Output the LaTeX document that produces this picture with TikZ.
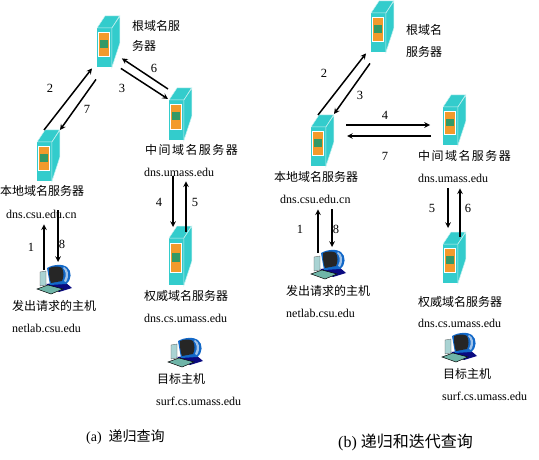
\documentclass[tikz,border=0pt]{standalone}
\usepackage{fontspec}
\setmainfont{Liberation Serif}
\newfontfamily\cjk{Noto Sans CJK SC}
\newfontfamily\cjkwide[LetterSpace=12]{Noto Sans CJK SC}
\usetikzlibrary{arrows,positioning}
\definecolor{srvteal}{HTML}{33CCCC}
\definecolor{srvorange}{HTML}{F39A2B}
\definecolor{srvgreen}{HTML}{339966}
\definecolor{pcblue}{HTML}{1268C8}
\definecolor{pcnavy}{HTML}{0A0A80}
\definecolor{pckey}{HTML}{6FB5A8}
\definecolor{pctower}{HTML}{A9D3D3}
\tikzset{
 srvfront/.style={fill=srvteal,inner sep=0,minimum width=14.5pt,anchor=north west},
 srvedge/.style={fill=srvteal,draw=white!75!srvteal,line width=.5pt},
 msg/.style={-stealth,line width=1.5pt},
 num/.style={inner sep=0,font=\fontsize{12.5pt}{14pt}\selectfont},
 cn/.style={inner sep=0,anchor=west,font=\fontsize{12pt}{14pt}\selectfont\cjk},
 cnwide/.style={inner sep=0,anchor=west,font=\fontsize{12pt}{14pt}\selectfont\cjkwide},
 en/.style={inner sep=0,anchor=west,font=\fontsize{12pt}{14pt}\selectfont},
 hostbox/.style={inner sep=0,minimum width=35pt,minimum height=29pt,anchor=north west},
}
% name, left, top, height of the front face
\newcommand{\dnsserver}[4]{
 \node[srvfront,minimum height=#4pt] (#1) at (#2,#3) {};
 \path[srvedge] (#1.north west) -- ++(8,-12) -- ++(14.5,0) -- (#1.north east) -- cycle;
 \path[srvedge] (#1.north east) -- ++(8,-12) -- ++(0,#4-12) -- (#1.south east) -- cycle;
 \fill[srvorange,draw=white,line width=.8pt] ([shift={(1.6,0.12*#4)}]#1.north west) rectangle ([shift={(12.2,-0.28*#4)}]#1.south west);
 \fill[srvgreen] ([shift={(3.2,0.31*#4)}]#1.north west) rectangle ([shift={(10.6,0.51*#4)}]#1.north west);
}
% name, left, top
\newcommand{\hostpc}[3]{
 \node[hostbox] (#1) at (#2,#3) {};
 \begin{scope}[shift={(#1.north west)}]
  \fill[pctower,draw=black!70,line width=.3pt] (3,7) -- (9,6) -- (9,20) -- (3,21) -- cycle;
  \fill[pcnavy] (9,19) -- (28,17) -- (35,23) -- (22,27) -- cycle;
  \fill[pckey,draw=black,line width=.5pt] (0,24) -- (11,20) -- (26,24) -- (14,29) -- cycle;
  \fill[pcblue] (10,3) .. controls (17,-1) and (26,-1) .. (30,2) .. controls (35,6) and (35,15) .. (29,19) -- (13,20) -- cycle;
  \fill[white!60!pcblue] (27,2) .. controls (31,4) and (33,10) .. (29,17) -- (27,16) .. controls (30,10) and (29,6) .. (26,3) -- cycle;
  \fill[black!85] (12,3) .. controls (17,1) and (22,1) .. (25,3) .. controls (27,7) and (27,12) .. (25,16) -- (14,18) .. controls (12,13) and (12,8) .. (12,3);
 \end{scope}
}
\begin{document}
\begin{tikzpicture}[x=1pt,y=-1pt]
 \useasboundingbox (0,0) rectangle (539,460);

 % servers (a)
 \dnsserver{arootsrv}{97}{28}{39}
 \dnsserver{alocalsrv}{37}{142}{39}
 \dnsserver{amidsrv}{169}{100}{40}
 \dnsserver{aauthsrv}{169}{238}{47}
 % servers (b)
 \dnsserver{brootsrv}{371}{13}{39}
 \dnsserver{blocalsrv}{311}{127}{39}
 \dnsserver{bmidsrv}{443}{107}{38}
 \dnsserver{bauthsrv}{443}{244}{39}

 % hosts
 \hostpc{areqpc}{37}{265}
 \hostpc{atgtpc}{168}{338}
 \hostpc{breqpc}{311}{250}
 \hostpc{btgtpc}{442}{333}

 % labels (a)
 \node[cn] (arootl1) at (132,26) {根域名服};
 \node[cn] (arootl2) at (132,46) {务器};
 \node[cn] (alocall) at (0,191) {本地域名服务器};
 \node[en] (alocaln) at (6,214) {dns.csu.edu.cn};
 \node[cnwide] (amidl) at (145,150) {中间域名服务器};
 \node[en] (amidn) at (144,172) {dns.umass.edu};
 \node[cn] (aauthl) at (144,296) {权威域名服务器};
 \node[en] (aauthn) at (144,318) {dns.cs.umass.edu};
 \node[cn] (areql) at (12,306) {发出请求的主机};
 \node[en] (areqn) at (12,328) {netlab.csu.edu};
 \node[cn] (atgtl) at (157,379) {目标主机};
 \node[en] (atgtn) at (156,401) {surf.cs.umass.edu};
 \node[cn,font=\fontsize{14pt}{16pt}\selectfont] (acap) at (86,437) {(a) \ \cjk 递归查询};
 % labels (b)
 \node[cn] (brootl1) at (406,30) {根域名};
 \node[cn] (brootl2) at (406,52) {服务器};
 \node[cn] (blocall) at (274,177) {本地域名服务器};
 \node[en] (blocaln) at (280,199) {dns.csu.edu.cn};
 \node[cnwide] (bmidl) at (418,156) {中间域名服务器};
 \node[en] (bmidn) at (418,178) {dns.umass.edu};
 \node[cn] (bauthl) at (418,302) {权威域名服务器};
 \node[en] (bauthn) at (418,323) {dns.cs.umass.edu};
 \node[cn] (breql) at (286,291) {发出请求的主机};
 \node[en] (breqn) at (286,313) {netlab.csu.edu};
 \node[cn] (btgtl) at (443,374) {目标主机};
 \node[en] (btgtn) at (442,396) {surf.cs.umass.edu};
 \node[cn,font=\fontsize{16pt}{18pt}\selectfont] (bcap) at (338,442) {(b) \cjk 递归和迭代查询};

 % step numbers
 \foreach \t/\x/\y in {2/50/88,7/87/109,3/122/88,6/154/68,4/159/202,5/195/202,1/31/247,8/62/244} {
  \node[num] (a\t) at (\x,\y) {\t};
 }
 \foreach \t/\x/\y in {2/324/73,3/360/95,4/385/115,7/385/156,5/432/208,6/468/208,1/300/229,8/336/229} {
  \node[num] (b\t) at (\x,\y) {\t};
 }

 % connectors (a)
 \draw[msg] ([shift={(7,-12)}]alocalsrv.north west) -- ([shift={(-5,1)}]arootsrv.south west);
 \draw[msg] ([shift={(-1,12)}]arootsrv.south west) -- ([shift={(23,-12)}]alocalsrv.north west);
 \draw[msg] ([shift={(9,1)}]arootsrv.south east) -- ([shift={(-1,-1)}]amidsrv.north west);
 \draw[msg] ([shift={(-1,-11)}]amidsrv.north west) -- ([shift={(10,-9)}]arootsrv.south east);
 \draw[msg] ([shift={(4,36)}]amidsrv.south west) -- ([shift={(4,-11)}]aauthsrv.north west);
 \draw[msg] ([shift={(17,-6)}]aauthsrv.north west) -- ([shift={(17,41)}]amidsrv.south west);
 \draw[msg] ([shift={(7,5)}]areqpc.north west) -- ([shift={(7,43)}]alocalsrv.south west);
 \draw[msg] ([shift={(21,29)}]alocalsrv.south west) -- ([shift={(21,-3)}]areqpc.north west);

 % connectors (b)
 \draw[msg] ([shift={(7,-12)}]blocalsrv.north west) -- ([shift={(-5,1)}]brootsrv.south west);
 \draw[msg] ([shift={(-1,11)}]brootsrv.south west) -- ([shift={(23,-13)}]blocalsrv.north west);
 \draw[msg] ([shift={(35,-2)}]blocalsrv.north west) -- ([shift={(-13,18)}]bmidsrv.north west);
 \draw[msg] ([shift={(-12,29)}]bmidsrv.north west) -- ([shift={(36,9)}]blocalsrv.north west);
 \draw[msg] ([shift={(5,43)}]bmidsrv.south west) -- ([shift={(5,-16)}]bauthsrv.north west);
 \draw[msg] ([shift={(17,-7)}]bauthsrv.north west) -- ([shift={(17,43)}]bmidsrv.south west);
 \draw[msg] ([shift={(7,3)}]breqpc.north west) -- ([shift={(7,43)}]blocalsrv.south west);
 \draw[msg] ([shift={(21,43)}]blocalsrv.south west) -- ([shift={(21,-3)}]breqpc.north west);
\end{tikzpicture}
\end{document}
